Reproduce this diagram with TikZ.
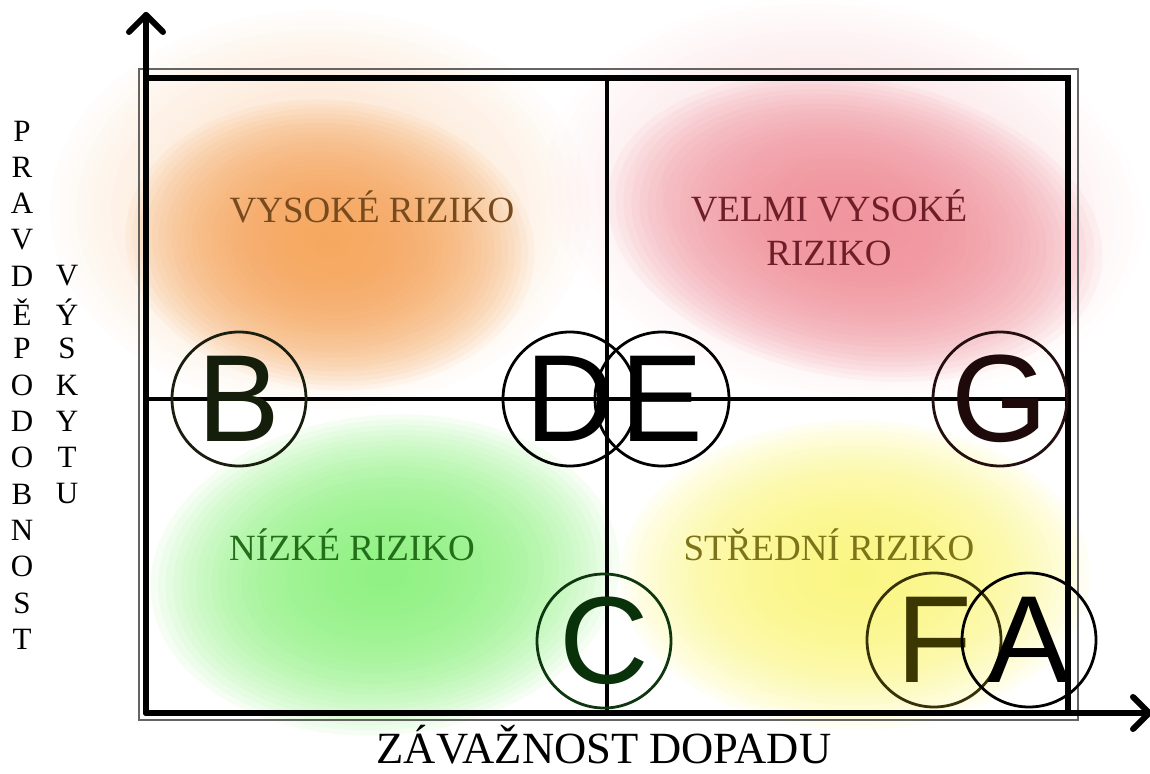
\documentclass[tikz,border=0pt]{standalone}
\usepackage{fontspec}
\setmainfont{Liberation Serif}
\newfontfamily\lettfont{Liberation Sans}
\definecolor{orcore}{RGB}{245,165,90}
\definecolor{orhalo}{RGB}{250,205,165}
\definecolor{recore}{RGB}{240,145,155}
\definecolor{rehalo}{RGB}{248,200,205}
\definecolor{grcore}{RGB}{135,240,120}
\definecolor{yecore}{RGB}{250,245,120}
\definecolor{ortext}{RGB}{120,75,30}
\definecolor{retext}{RGB}{110,30,40}
\definecolor{grtext}{RGB}{35,110,25}
\definecolor{yetext}{RGB}{125,115,25}
\definecolor{thingray}{RGB}{100,100,100}
\newcommand\softblob[7]{% cx cy rx ry rot color opacity
  \foreach \k in {0,...,29}{%
    \fill[#6,opacity=#7,rotate around={#5:(#1,#2)}] (#1,#2) ellipse [x radius={#3*(1-\k/31)}, y radius={#4*(1-\k/31)}];}}
\begin{document}
\begin{tikzpicture}[x=0.5pt,y=-0.5pt,
  thickline/.style={line width=3pt,line cap=round},
  midline/.style={line width=2pt},
  chev/.style={line width=3pt,line cap=round,line join=round},
  riskcircle/.style={circle,draw,line width=1.4pt,minimum size=67pt,inner sep=0pt,font=\lettfont\fontsize{62}{62}\selectfont},
  quadlabel/.style={font=\fontsize{18.5}{22}\selectfont,align=center},
  axislabel/.style={font=\fontsize{22.3}{26}\selectfont,inner sep=0pt,anchor=base},
  vlett/.style={font=\fontsize{15.5}{15.5}\selectfont,inner sep=0pt}]
\useasboundingbox (0,0) rectangle (1150,774);
% soft colour blobs
\softblob{320}{210}{270}{200}{0}{orhalo}{0.035}
\softblob{330}{245}{205}{145}{-5}{orcore}{0.075}
\softblob{845}{200}{300}{200}{-8}{rehalo}{0.035}
\softblob{855}{228}{250}{150}{-10}{recore}{0.08}
\softblob{385}{575}{235}{160}{5}{grcore}{0.08}
\softblob{855}{575}{235}{155}{0}{yecore}{0.08}
% coordinates
\coordinate (O) at (146,713);
\coordinate (Ytop) at (146,15);
\coordinate (Xend) at (1149,713);
\coordinate (TL) at (146,78);
\coordinate (TR) at (1068,78);
\coordinate (BR) at (1068,713);
\coordinate (ML) at (146,399);
\coordinate (MR) at (1068,399);
\coordinate (MT) at (607,78);
\coordinate (MB) at (607,713);
% thin outer frame
\draw[thingray,line width=0.7pt] (139,69) rectangle (1078,720);
% frame and axes
\draw[thickline] (TL) -- (TR) -- (BR);
\draw[thickline] (O) -- (Ytop);
\draw[thickline] (O) -- (Xend);
\draw[chev] (129,32) -- (Ytop) -- (163,32);
\draw[chev] (1133,697) -- (Xend) -- (1133,729);
\draw[midline] (ML) -- (MR);
\draw[midline] (MT) -- (MB);
% quadrant labels
\node[quadlabel,text=ortext] (hi) at (372,207) {VYSOKÉ RIZIKO};
\node[quadlabel,text=retext] (vhi) at (829,228) {VELMI VYSOKÉ\\RIZIKO};
\node[quadlabel,text=grtext] (lo) at (352,545) {NÍZKÉ RIZIKO};
\node[quadlabel,text=yetext] (mid) at (829,545) {STŘEDNÍ RIZIKO};
% axis labels
\node[axislabel] (xlab) at (604,763) {ZÁVAŽNOST DOPADU};
\foreach \c [count=\i from 0] in {P,R,A,V,D,Ě,P,O,D,O,B,N,O,S,T}{
  \node[vlett] (pl\i) at (22,{131+36.3*\i}) {\c};}
\foreach \c [count=\i from 0] in {V,Ý,S,K,Y,T,U}{
  \node[vlett] (vl\i) at (67,{276+36.3*\i}) {\c};}
% risk circles
\node[riskcircle,draw={rgb,255:red,25;green,30;blue,15},text={rgb,255:red,20;green,30;blue,10}] (B) at (239,399) {B};
\node[riskcircle] (D) at (570,399) {D};
\node[riskcircle] (E) at (662,399) {E};
\node[riskcircle,draw={rgb,255:red,35;green,15;blue,15},text={rgb,255:red,30;green,10;blue,10}] (G) at (1000,399) {G};
\node[riskcircle,draw={rgb,255:red,15;green,55;blue,15},text={rgb,255:red,10;green,50;blue,10}] (C) at (604,641) {C};
\node[riskcircle,draw={rgb,255:red,55;green,50;blue,5},text={rgb,255:red,60;green,55;blue,0}] (F) at (934,640) {F};
\node[riskcircle] (A) at (1029,640) {A};
\end{tikzpicture}
\end{document}
